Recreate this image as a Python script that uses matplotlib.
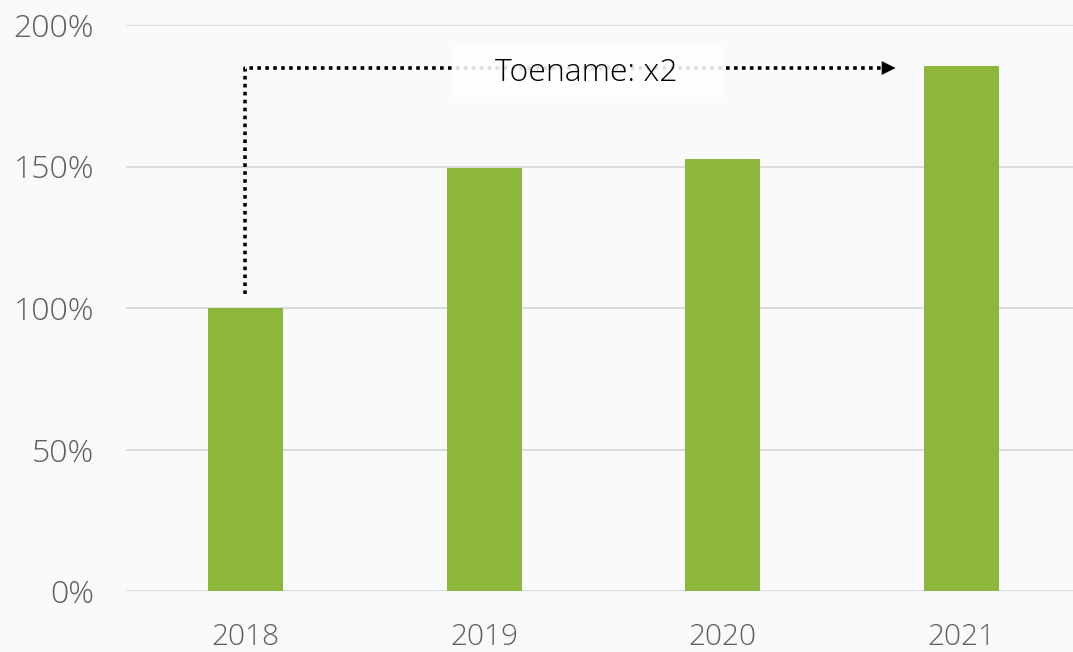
import matplotlib.pyplot as plt
from matplotlib.patches import Rectangle
from matplotlib.ticker import PercentFormatter

# data
years = ['2018', '2019', '2020', '2021']
values = [100, 149.5, 152.5, 185.5]
y_ticks = [0, 50, 100, 150, 200]
label = 'Toename: x2'

bg = '#f9fafc'
green = '#8cb63c'

plt.rcParams['font.family'] = ['Open Sans', 'DejaVu Sans']

fig = plt.figure(figsize=(10.73, 6.52), dpi=100, facecolor=bg)
ax = fig.add_axes([126 / 1073, 61 / 652, 955 / 1073, 566 / 652])
ax.set_facecolor(bg)

x = range(len(years))
ax.bar(x, values, width=0.314, color=green, zorder=3)

ax.set_xlim(-0.5, 3.5)
ax.set_ylim(0, 200)
ax.set_yticks(y_ticks)
ax.yaxis.set_major_formatter(PercentFormatter(decimals=0))
ax.set_xticks(list(x))
ax.set_xticklabels(years)
ax.grid(axis='y', color='#d9d9d9', linewidth=1.3, zorder=0)
ax.tick_params(length=0, labelcolor='#5f5f5f')
ax.tick_params(axis='y', labelsize=23, pad=23)
ax.tick_params(axis='x', labelsize=21.5, pad=23)
for lbl in ax.get_xticklabels() + ax.get_yticklabels():
    lbl.set_fontweight('light')
for s in ax.spines.values():
    s.set_visible(False)

# dotted growth arrow from 2018 bar to 2021 bar
y_top = 184.8
ax.plot([0, 0, 2.67], [105, y_top, y_top], color='black', linestyle=(0, (1, 1.2)),
        linewidth=2.6, zorder=4, clip_on=False)
ax.annotate('', xy=(2.735, y_top), xytext=(2.66, y_top),
            arrowprops=dict(arrowstyle='-|>,head_length=1.0,head_width=0.5',
                            color='black', lw=0), zorder=4)
ax.add_patch(Rectangle((0.865, 174.5), 1.135, 18.5, facecolor='white',
                       edgecolor='none', alpha=0.88, zorder=5))
ax.text(1.43, y_top - 1.8, label, ha='center', va='center', fontsize=23, color='black',
        fontweight='light', zorder=6)

fig.savefig('out.png', dpi=100, facecolor=bg)
